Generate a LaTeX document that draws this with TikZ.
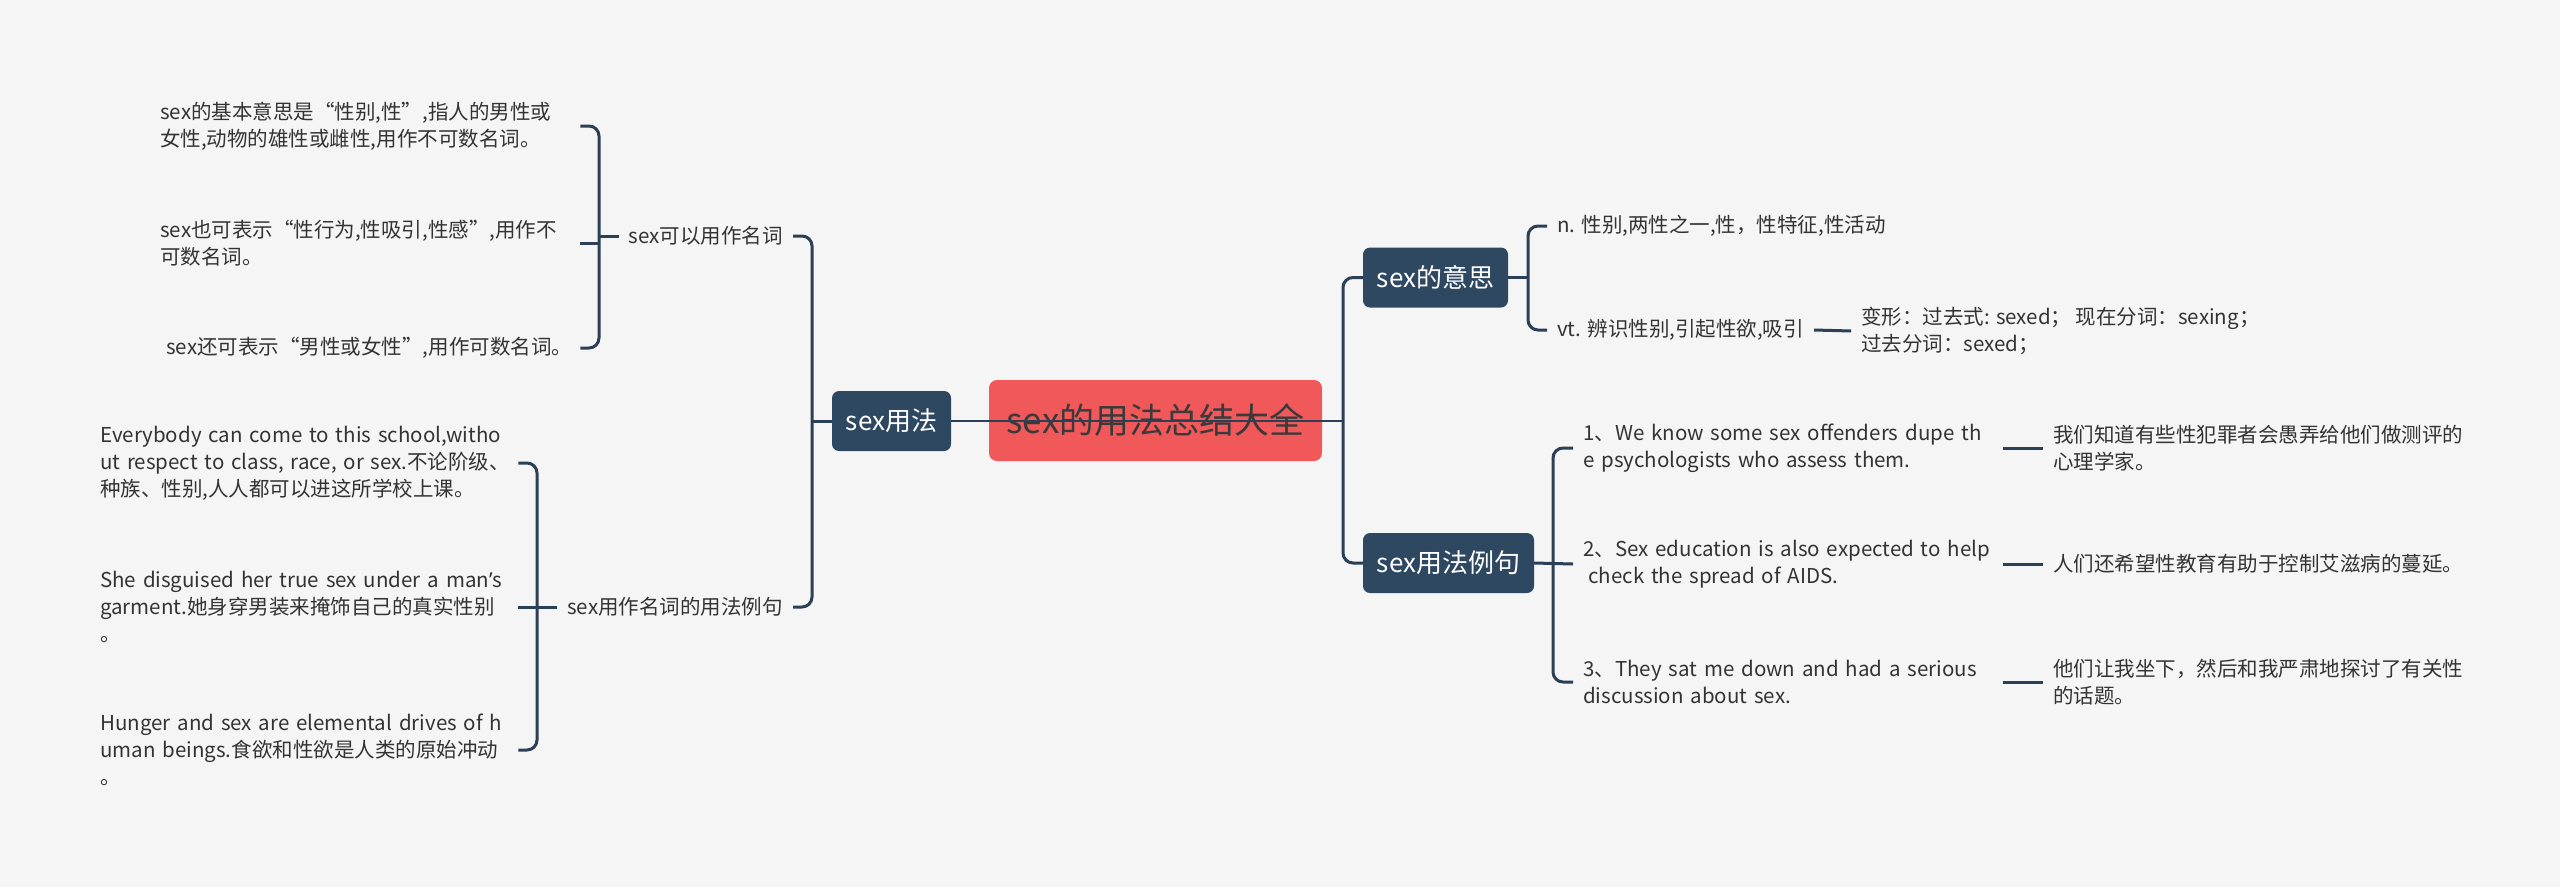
\documentclass[tikz,border=0pt]{standalone}
\usepackage{fontspec}
\setmainfont{Noto Sans CJK SC}
\newfontfamily\aposfont{Noto Sans}
\definecolor{bgc}{HTML}{F5F5F5}
\definecolor{linec}{HTML}{2B3F56}
\definecolor{boxc}{HTML}{2F4862}
\definecolor{rootc}{HTML}{F0585A}
\definecolor{leafc}{HTML}{333333}
\definecolor{roottext}{HTML}{3A3A3A}
\newcommand{\lb}[1]{\mbox{#1}}
\begin{document}
\begin{tikzpicture}[x=1pt,y=-1pt,
  conn/.style={draw=linec, line width=3pt},
  bracket/.style={conn, rounded corners=10pt},
  rootbox/.style={fill=rootc, text=roottext, rounded corners=8pt, font=\fontsize{35}{42}\selectfont, minimum width=333pt, minimum height=81pt, inner sep=0pt},
  topic/.style={fill=boxc, text=white, rounded corners=7pt, font=\fontsize{26}{32}\selectfont, inner xsep=13pt, inner ysep=0pt, minimum height=60pt},
  leaf/.style={text=leafc, font=\fontsize{20.5}{27}\selectfont, inner xsep=10pt, inner ysep=4pt, align=left},
]
\fill[bgc] (0,0) rectangle (2560,887);
\useasboundingbox (0,0) rectangle (2560,887);

% central and main topics
\node[rootbox] (root) at (1155.5,420.5) {sex的用法总结大全};
\node[topic, minimum width=119pt] (L1) at (891.5,421) {sex用法};
\node[topic, minimum width=145pt] (R1) at (1435.5,277.5) {sex的意思};
\node[topic, minimum width=171pt] (R2) at (1448.5,563) {sex用法例句};

% left subtopics
\node[leaf, anchor=east] (A) at (793,236) {sex可以用作名词};
\node[leaf, anchor=east] (B) at (793,607) {sex用作名词的用法例句};

\node[leaf, anchor=west, text width=410pt] (A1) at (150,126) {\lb{sex的基本意思是“性别,性”,指人的男性或}\\\lb{女性,动物的雄性或雌性,用作不可数名词。}};
\node[leaf, anchor=west, text width=410pt] (A2) at (150,243) {\lb{sex也可表示“性行为,性吸引,性感”,用作不}\\\lb{可数名词。}};
\node[leaf, anchor=west, text width=410pt] (A3) at (150,348) {\lb{\hspace*{0.3em}sex还可表示“男性或女性”,用作可数名词。}};

\node[leaf, anchor=west, text width=408pt] (B1) at (90,463) {\lb{Everybody can come to this school,witho}\\\lb{ut respect to class, race, or sex.不论阶级、}\\\lb{种族、性别,人人都可以进这所学校上课。}};
\node[leaf, anchor=west, text width=408pt] (B2) at (90,607) {\lb{She disguised her true sex under a man{\aposfont ’}s}\\\lb{garment.她身穿男装来掩饰自己的真实性别}\\\lb{。}};
\node[leaf, anchor=west, text width=408pt] (B3) at (90,750) {\lb{Hunger and sex are elemental drives of h}\\\lb{uman beings.食欲和性欲是人类的原始冲动}\\\lb{。}};

% right: meanings
\node[leaf, anchor=west] (N1) at (1547,226) {n. 性别,两性之一,性，性特征,性活动};
\node[leaf, anchor=west] (V1) at (1547,330) {vt. 辨识性别,引起性欲,吸引};
\node[leaf, anchor=west] (F1) at (1851,331) {变形：过去式: sexed； 现在分词：sexing；\\过去分词：sexed；};

% right: examples
\node[leaf, anchor=west, text width=410pt] (E1) at (1573,448) {\lb{1、We know some sex offenders dupe th}\\\lb{e psychologists who assess them.}};
\node[leaf, anchor=west, text width=410pt] (E2) at (1573,564) {\lb{2、Sex education is also expected to help}\\\lb{\hspace*{0.25em}check the spread of AIDS.}};
\node[leaf, anchor=west, text width=410pt] (E3) at (1573,682) {\lb{3、They sat me down and had a serious}\\\lb{discussion about sex.}};

\node[leaf, anchor=west] (Z1) at (2043,448) {我们知道有些性犯罪者会愚弄给他们做测评的\\心理学家。};
\node[leaf, anchor=west] (Z2) at (2043,564) {人们还希望性教育有助于控制艾滋病的蔓延。};
\node[leaf, anchor=west] (Z3) at (2043,682) {他们让我坐下，然后和我严肃地探讨了有关性\\的话题。};

% spine coordinates
\coordinate (rsp) at (1343,421);
\coordinate (lsp) at (812,421);
\coordinate (sa) at (599,236);
\coordinate (sb) at (537,607);
\coordinate (s1) at (1528,277.5);
\coordinate (s2) at (1553,564);

% connectors
\draw[conn, line width=2.6pt] (L1.east) -- (rsp);
\draw[bracket] (R1.west) -| (rsp) |- (R2.west);
\draw[conn] (L1.west) -- (lsp);
\draw[bracket] (A.east) -| (lsp) |- (B.east);

\draw[bracket] (A1.east) -| (sa) |- (A3.east);
\draw[conn] (A2.east) -- (A2.east -| sa);
\draw[conn] (A.west) -- (sa);

\draw[bracket] (B1.east) -| (sb) |- (B3.east);
\draw[conn] (B.west) -- (sb) -- (B2.east);

\draw[bracket] (N1.west) -| (s1) |- (V1.west);
\draw[conn] (R1.east) -- (s1);
\draw[conn] (V1.east) -- (F1.west);

\draw[bracket] (E1.west) -| (s2) |- (E3.west);
\draw[conn] (R2.east) -- (E2.west);

\draw[conn] (E1.east) -- (Z1.west);
\draw[conn] (E2.east) -- (Z2.west);
\draw[conn] (E3.east) -- (Z3.west);
\end{tikzpicture}
\end{document}
